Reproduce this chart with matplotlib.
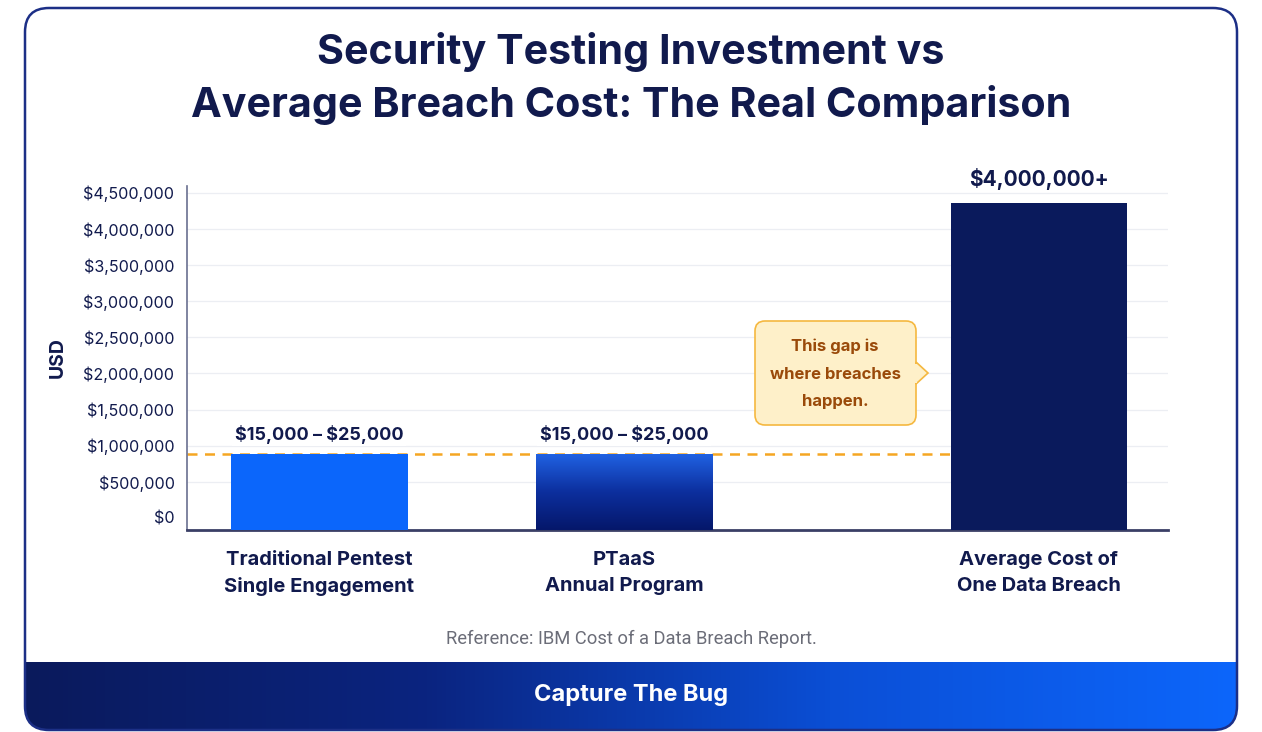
import numpy as np
import matplotlib
matplotlib.use("Agg")
import matplotlib.pyplot as plt
from matplotlib.patches import FancyBboxPatch, Polygon
from matplotlib.colors import LinearSegmentedColormap
from matplotlib.ticker import FuncFormatter

plt.rcParams["font.family"] = ["Inter", "DejaVu Sans"]

# data
categories = ["Traditional Pentest\nSingle Engagement", "PTaaS\nAnnual Program",
              "Average Cost of\nOne Data Breach"]
values = [890000, 890000, 4360000]
value_labels = [r"\$15,000 – \$25,000", r"\$15,000 – \$25,000", r"\$4,000,000+"]
yticks = [0, 500000, 1000000, 1500000, 2000000, 2500000, 3000000, 3500000, 4000000, 4500000]

# layout
xpos = [0, 1, 2.363]
bar_w = 0.58
floor = -167000
navy = "#111a4d"

fig = plt.figure(figsize=(12.62, 7.32), dpi=100)
fig.patch.set_facecolor("white")

# background / card in pixel coords
bg = fig.add_axes([0, 0, 1, 1], zorder=0)
bg.set_xlim(0, 1262)
bg.set_ylim(732, 0)
bg.axis("off")

card = FancyBboxPatch((25, 8), 1212, 722, boxstyle="round,pad=0,rounding_size=24",
                      fc="white", ec="none", zorder=0)
bg.add_patch(card)
foot_cmap = LinearSegmentedColormap.from_list("foot", ["#0a1a5c", "#0a2480", "#0b4fd6", "#0d66fb"])
grad = np.linspace(0, 1, 256).reshape(1, -1)
im = bg.imshow(grad, extent=(25, 1237, 731, 662), cmap=foot_cmap, aspect="auto", zorder=1)
im.set_clip_path(card)
border = FancyBboxPatch((25, 8), 1212, 722, boxstyle="round,pad=0,rounding_size=24",
                        fc="none", ec="#1c2f86", lw=1.8, zorder=2)
bg.add_patch(border)
bg.set_xlim(0, 1262)
bg.set_ylim(732, 0)

bg.text(631, 52, "Security Testing Investment vs", ha="center", va="center",
        fontsize=29.7, fontweight="bold", color=navy)
bg.text(631, 105, "Average Breach Cost: The Real Comparison", ha="center", va="center",
        fontsize=29.7, fontweight="bold", color=navy)
bg.text(631, 639, "Reference: IBM Cost of a Data Breach Report.", ha="center", va="center",
        fontsize=13.2, color="#6b6d78", family=["Roboto", "DejaVu Sans"])
bg.text(631, 695, "Capture The Bug", ha="center", va="center",
        fontsize=17, fontweight="bold", color="white")

# main chart
ax = fig.add_axes([187 / 1262, 1 - 530 / 732, 981 / 1262, 344.5 / 732], zorder=1)
ax.set_facecolor("none")
ylim = (floor, 4600000)
ax.set_xlim(-0.435, 2.787)
ax.set_ylim(*ylim)

heights = [v - floor for v in values]
bars = ax.bar(xpos, heights, bottom=floor, width=bar_w,
              color=["#0b66fb", "#1d5fe0", "#0a1a5c"], zorder=3)

bar_cmap = LinearSegmentedColormap.from_list("bar", ["#05176a", "#0c2f9e", "#2163e4"])
b = bars[1]
g = np.linspace(0, 1, 256).reshape(-1, 1)
gim = ax.imshow(g, extent=(b.get_x(), b.get_x() + b.get_width(), floor, values[1]),
                origin="lower", cmap=bar_cmap, aspect="auto", zorder=4)
gim.set_clip_path(b)
ax.set_xlim(-0.435, 2.787)
ax.set_ylim(*ylim)

ax.plot([-0.435, xpos[2] - bar_w / 2], [values[0], values[0]], ls=(0, (4, 3)),
        color="#f5a623", lw=1.8, zorder=2)

for x, v, lab in zip(xpos[:2], values[:2], value_labels[:2]):
    ax.annotate(lab, (x, v), xytext=(0, 14), textcoords="offset points", ha="center",
                va="center", fontsize=13, fontweight="bold", color=navy,
                bbox=dict(fc="white", ec="none", pad=2), zorder=5)
ax.annotate(value_labels[2], (xpos[2], values[2]), xytext=(0, 17), textcoords="offset points",
            ha="center", va="center", fontsize=15, fontweight="bold", color=navy, zorder=5)

ax.set_yticks(yticks)
ax.yaxis.set_major_formatter(FuncFormatter(lambda v, p: f"\\${v:,.0f}"))
ax.set_xticks(xpos)
ax.set_xticklabels(categories, fontsize=14.5, fontweight="bold", color=navy, linespacing=1.55)
ax.tick_params(axis="y", labelsize=11.6, labelcolor=navy, length=0, pad=9)
ax.tick_params(axis="x", length=0, pad=15)
ax.grid(axis="y", color="#eceef3", lw=0.9, zorder=0)
ax.yaxis.get_gridlines()[0].set_visible(False)
ax.set_ylabel("USD", fontsize=14, fontweight="bold", color=navy, labelpad=12)

for s in ["top", "right"]:
    ax.spines[s].set_visible(False)
ax.spines["left"].set_color("#6a7090")
ax.spines["left"].set_linewidth(1.2)
ax.spines["bottom"].set_color("#3a3f66")
ax.spines["bottom"].set_linewidth(2)

# callout on top
top = fig.add_axes([0, 0, 1, 1], zorder=2)
top.set_xlim(0, 1262)
top.set_ylim(732, 0)
top.axis("off")
top.patch.set_alpha(0)
box = FancyBboxPatch((755, 321), 161, 104, boxstyle="round,pad=0,rounding_size=10",
                     fc="#fef0c9", ec="#f5b840", lw=1.2, zorder=3)
top.add_patch(box)
top.add_patch(Polygon([(916, 362), (928, 373), (916, 384)], closed=True,
                      fc="#fef0c9", ec="#f5b840", lw=1.2, zorder=4))
top.add_patch(Polygon([(914.5, 363.5), (916.8, 363.5), (916.8, 382.5), (914.5, 382.5)],
                      closed=True, fc="#fef0c9", ec="none", zorder=5))
top.text(835, 374, "This gap is\nwhere breaches\nhappen.", ha="center", va="center",
         fontsize=12, fontweight="bold", color="#9a4a0a", linespacing=2.05, zorder=6)

fig.savefig("out.png", dpi=100)
